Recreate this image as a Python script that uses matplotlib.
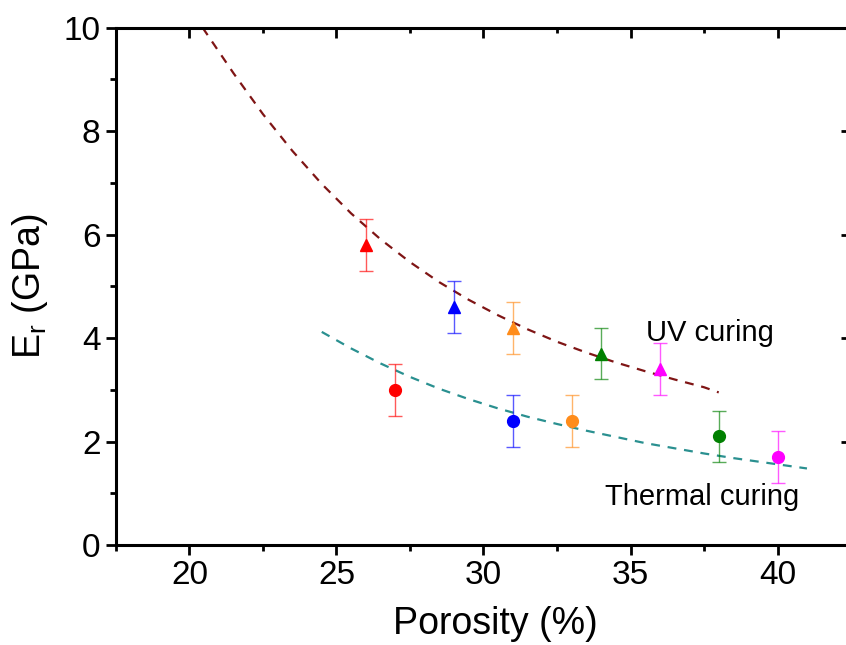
import matplotlib
matplotlib.use("Agg")
import matplotlib.pyplot as plt
from matplotlib.ticker import MultipleLocator

plt.rcParams['font.family'] = ['Liberation Sans', 'DejaVu Sans']
plt.rcParams['mathtext.fontset'] = 'custom'
plt.rcParams['mathtext.rm'] = 'Liberation Sans'

# data
colors = ['#ff0000', '#0000ff', '#ff8c1a', '#008000', '#ff00ff']

uv_x = [26, 29, 31, 34, 36]
uv_y = [5.8, 4.6, 4.2, 3.7, 3.4]
uv_err = [0.5, 0.5, 0.5, 0.5, 0.5]

th_x = [27, 31, 33, 38, 40]
th_y = [3.0, 2.4, 2.4, 2.1, 1.7]
th_err = [0.5, 0.5, 0.5, 0.5, 0.5]

# dashed fit curves
uv_fit_x = [20.45, 21.5, 22.5, 23.5, 24.5, 25.5, 26.5, 27.5, 28.5, 29.5,
            30.5, 31.5, 32.5, 33.5, 34.5, 35.5, 36.5, 37.5, 38.0]
uv_fit_y = [10.0, 9.12, 8.33, 7.62, 6.98, 6.41, 5.91, 5.47, 5.08, 4.74,
            4.44, 4.17, 3.93, 3.72, 3.53, 3.36, 3.2, 3.05, 2.95]
th_fit_x = [24.5, 25.5, 26.5, 27.5, 28.5, 29.5, 30.5, 31.5, 32.5, 33.5,
            34.5, 35.5, 36.5, 37.5, 38.5, 39.5, 40.5, 41.0]
th_fit_y = [4.12, 3.8, 3.51, 3.25, 3.02, 2.82, 2.64, 2.48, 2.34, 2.21,
            2.09, 1.97, 1.87, 1.77, 1.68, 1.6, 1.52, 1.48]

fig = plt.figure(figsize=(8.46, 6.45), dpi=100)
ax = fig.add_axes([0.137, 0.155, 0.869, 0.802])

ax.plot(uv_fit_x, uv_fit_y, color='#7f1515', lw=1.6, dashes=(4, 3.5))
ax.plot(th_fit_x, th_fit_y, color='#2a9090', lw=1.6, dashes=(4, 3.5))

for i in range(len(uv_x)):
    ax.errorbar(uv_x[i], uv_y[i], yerr=uv_err[i], fmt='none', ecolor=colors[i],
                capsize=5, elinewidth=1.0, capthick=1.0, alpha=0.65, zorder=3)
    ax.plot(uv_x[i], uv_y[i], '^', color=colors[i], ms=9, zorder=4)
    ax.errorbar(th_x[i], th_y[i], yerr=th_err[i], fmt='none', ecolor=colors[i],
                capsize=5, elinewidth=1.0, capthick=1.0, alpha=0.65, zorder=3)
    ax.plot(th_x[i], th_y[i], 'o', color=colors[i], ms=8.5, zorder=4)

ax.text(37.7, 4.1, 'UV curing', fontsize=21, ha='center', va='center')
ax.text(37.45, 0.93, 'Thermal curing', fontsize=21, ha='center', va='center')

ax.set_xlim(17.5, 42.5)
ax.set_ylim(0, 10)
ax.xaxis.set_major_locator(MultipleLocator(5))
ax.xaxis.set_minor_locator(MultipleLocator(2.5))
ax.yaxis.set_major_locator(MultipleLocator(2))
ax.yaxis.set_minor_locator(MultipleLocator(1))

for s in ax.spines.values():
    s.set_linewidth(2.2)

ax.tick_params(axis='both', which='major', length=7.5, width=2, labelsize=24, direction='out')
ax.tick_params(axis='both', which='minor', length=4, width=2, direction='out')

ax.set_xlabel('Porosity (%)', fontsize=27)
ax.xaxis.set_label_coords(0.516, -0.118)
ax.set_ylabel(r'E$_\mathregular{r}$ (GPa)', fontsize=27, labelpad=10)

# inward ticks on the top and right frame, drawn as short segments in axes coords
tr = ax.get_xaxis_transform()
for xv, ln in [(20, 0.019), (22.5, 0.01), (25, 0.019), (27.5, 0.01), (30, 0.019),
               (32.5, 0.01), (35, 0.019), (37.5, 0.01), (40, 0.019)]:
    ax.plot([xv, xv], [1, 1 - ln], color='black', lw=2, transform=tr,
            clip_on=False, solid_capstyle='butt')
tr = ax.get_yaxis_transform()
for yv in range(1, 10):
    ln = 0.0135 if yv % 2 == 0 else 0.007
    ax.plot([1, 1 - ln], [yv, yv], color='black', lw=2, transform=tr,
            clip_on=False, solid_capstyle='butt')

fig.savefig('out.png', dpi=100)
